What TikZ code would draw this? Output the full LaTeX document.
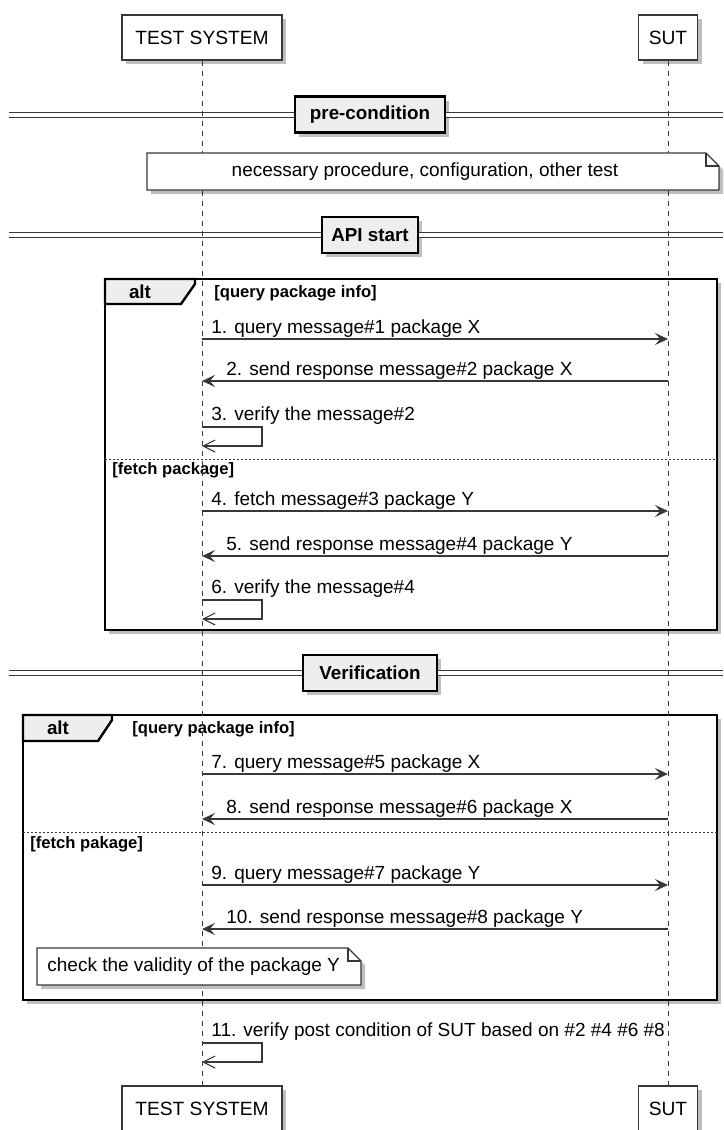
\documentclass[tikz,border=0pt]{standalone}
\usepackage{fontspec}
\setmainfont{Liberation Sans}
\usetikzlibrary{arrows.meta,positioning,shadows}
\definecolor{lncol}{HTML}{383838}
\definecolor{boxfill}{HTML}{EEEEEE}

\begin{document}
\begin{tikzpicture}[x=0.5pt,y=-0.5pt,
    shade/.style={drop shadow={shadow xshift=2pt,shadow yshift=-2pt,fill=black,opacity=0.25}},
    actor/.style={draw=lncol,fill=white,line width=0.8pt,shade,minimum height=22.5pt,inner sep=0pt,font=\fontsize{9.6}{11}\selectfont},
    lifeline/.style={draw=lncol,line width=0.5pt,dash pattern=on 2.5pt off 2.5pt},
    msg/.style={draw=lncol,line width=0.65pt,-{Stealth[length=6.5pt,width=6pt,inset=2.6pt]}},
    selfmsg/.style={draw=lncol,line width=0.55pt,-{Straight Barb[length=6pt,width=6pt]}},
    msgtext/.style={anchor=base west,inner sep=0pt,font=\fontsize{9.5}{11}\selectfont},
    guard/.style={anchor=west,inner sep=0pt,font=\bfseries\fontsize{8.3}{10}\selectfont},
    alttext/.style={inner sep=0pt,font=\bfseries\fontsize{9.4}{11}\selectfont},
    altbox/.style={draw=black,fill=white,line width=1.2pt,shade},
    alttab/.style={draw=black,fill=boxfill,line width=1.2pt},
    sep/.style={draw=lncol,line width=0.5pt,dash pattern=on 1pt off 1pt},
    divline/.style={draw=lncol,double,double distance=2pt,line width=0.5pt},
    divbox/.style={draw=black,fill=boxfill,line width=1.2pt,shade,minimum height=18pt,inner sep=0pt,font=\bfseries\fontsize{9.4}{11}\selectfont},
    notebox/.style={draw=lncol,fill=white,line width=0.6pt,shade},
    notetext/.style={inner sep=0pt,font=\fontsize{9.5}{11}\selectfont}]
    \fill[white] (0,0) rectangle (723,1130);
    \useasboundingbox (0,0) rectangle (723,1130);

    \draw[altbox] (105,279) rectangle (717,630);
    \draw[alttab] (105,279) -- (195,279) -- (195,284) -- (181,304) -- (105,304) -- cycle;
    \node[alttext] (alt1) at (140,292) {alt};
    \node[guard] (g1) at (214,293) {[query package info]};
    \draw[sep] (105,459) -- (717,459);
    \node[guard] (g2) at (112,470) {[fetch package]};

    \draw[altbox] (23,715) rectangle (717,1000);
    \draw[alttab] (23,715) -- (112,715) -- (112,720) -- (98,741) -- (23,741) -- cycle;
    \node[alttext] (alt2) at (58,728) {alt};
    \node[guard] (g3) at (132,729) {[query package info]};
    \draw[sep] (23,832) -- (717,832);
    \node[guard] (g4) at (30,844) {[fetch pakage]};

    \foreach \n/\y/\txt/\w in {pre/114.5/pre-condition/75pt,api/235/API start/48pt,ver/673/Verification/67pt} {
      \node[divbox,minimum width=\w] (\n) at (370,\y) {\txt};
      \draw[divline] (9,\y) -- (\n.west);
      \draw[divline] (\n.east) -- (723,\y);
    }

    \node[actor,minimum width=80pt] (ts) at (202,37.5) {TEST SYSTEM};
    \node[actor,minimum width=29.5pt] (sut) at (668,37.5) {SUT};
    \node[actor,minimum width=80pt] (tsb) at (202,1108.5) {TEST SYSTEM};
    \node[actor,minimum width=29.5pt] (sutb) at (668,1108.5) {SUT};
    \draw[lifeline] (ts) -- (tsb);
    \draw[lifeline] (sut) -- (sutb);

    \draw[notebox] (147,153) -- (706,153) -- (719,166) -- (719,190) -- (147,190) -- cycle;
    \draw[draw=lncol,line width=0.6pt] (706,153) |- (719,166);
    \node[notetext] (n1) at (425,172) {necessary procedure, configuration, other test};
    \draw[notebox] (37,948) -- (348,948) -- (361,961) -- (361,985) -- (37,985) -- cycle;
    \draw[draw=lncol,line width=0.6pt] (348,948) |- (361,961);
    \node[notetext,anchor=west] (n2) at (47,967) {check the validity of the package Y};

    \foreach \i/\y/\txt in {1/339/{1. query message\#1 package X},4/511/{4. fetch message\#3 package Y},7/774/{7. query message\#5 package X},9/885/{9. query message\#7 package Y}} {
      \coordinate (t\i) at (ts |- 0,\y);
      \coordinate (s\i) at (sut |- 0,\y);
      \draw[msg] (t\i) -- (s\i);
      \node[msgtext] (l\i) at ([xshift=4.5pt,yshift=3pt]t\i) {\txt};
    }
    \foreach \i/\y/\txt in {2/381/{2. send response message\#2 package X},5/556/{5. send response message\#4 package Y},8/819/{8. send response message\#6 package X},10/929/{10. send response message\#8 package Y}} {
      \coordinate (t\i) at (ts |- 0,\y);
      \coordinate (s\i) at (sut |- 0,\y);
      \draw[msg] (s\i) -- (t\i);
      \node[msgtext] (l\i) at ([xshift=12pt,yshift=3pt]t\i) {\txt};
    }
    \foreach \i/\y/\txt in {3/427/{3. verify the message\#2},6/600/{6. verify the message\#4},11/1043/{11. verify post condition of SUT based on \#2 \#4 \#6 \#8}} {
      \coordinate (t\i) at (ts |- 0,\y);
      \coordinate (u\i) at ([yshift=-9.5pt]t\i);
      \draw[selfmsg] (t\i) -- ++(60,0) |- (u\i);
      \node[msgtext] (l\i) at ([xshift=4.5pt,yshift=3.5pt]t\i) {\txt};
    }
\end{tikzpicture}
\end{document}
